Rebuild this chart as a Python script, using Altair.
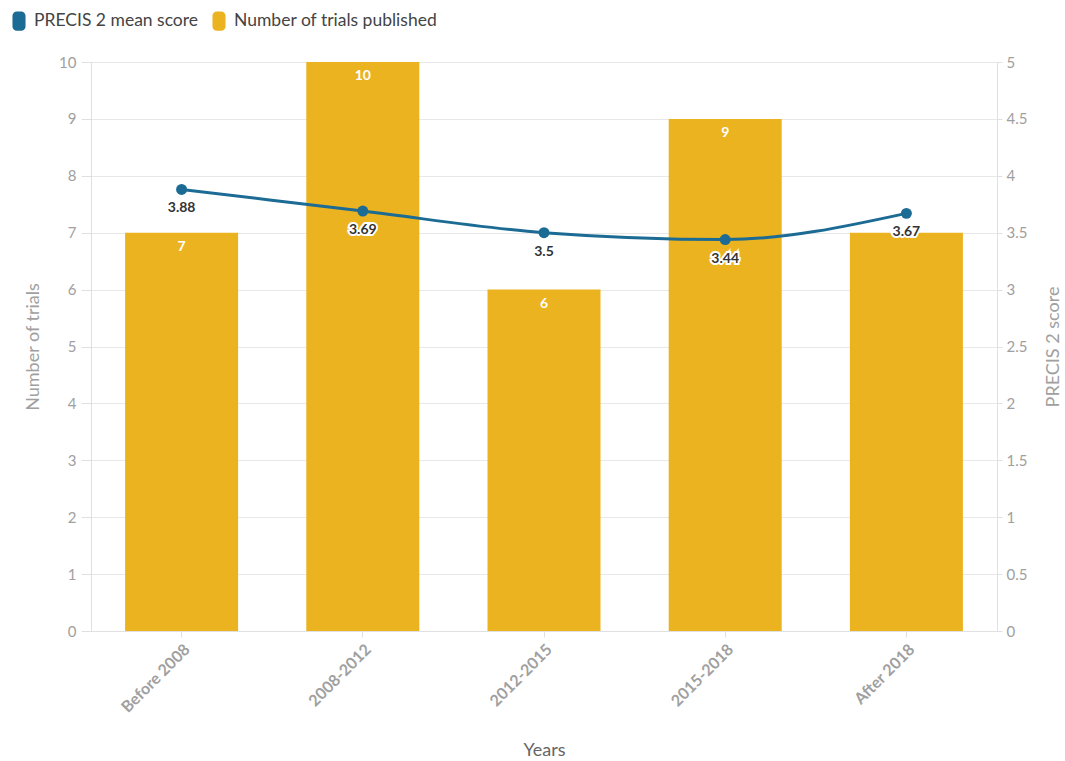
import altair as alt
import pandas as pd

years = ["Before 2008", "2008-2012", "2012-2015", "2015-2018", "After 2018"]
trials = [7, 10, 6, 9, 7]
precis = [3.88, 3.69, 3.5, 3.44, 3.67]
series_names = ["PRECIS 2 mean score", "Number of trials published"]
colors = ["#1c6b94", "#ebb31f"]
# bar labels hidden behind the line labels in the reference
hidden_bar_labels = ["After 2018"]

bars_df = pd.DataFrame({"Years": years, "trials": trials, "series": series_names[1]})
line_df = pd.DataFrame({"Years": years, "score": precis, "series": series_names[0]})
bar_label_df = bars_df[~bars_df["Years"].isin(hidden_bar_labels)]

FONT = "Lato"
rounded = ("M-0.67,-0.55 A0.45,0.45 0 0 1 -0.22,-1 L0.22,-1 A0.45,0.45 0 0 1 0.67,-0.55 "
           "L0.67,0.55 A0.45,0.45 0 0 1 0.22,1 L-0.22,1 A0.45,0.45 0 0 1 -0.67,0.55 Z")

color_scale = alt.Scale(domain=series_names, range=colors)
legend = alt.Legend(
    title=None, orient="none", legendX=-82, legendY=-51, direction="horizontal",
    symbolType=rounded, symbolSize=380, symbolStrokeWidth=0, symbolOpacity=1,
    labelFontSize=17.5, labelColor="#444", labelFont=FONT, columnPadding=10, symbolOffset=0,
    labelOffset=5, labelLimit=400,
)

x_enc = alt.X("Years:N", sort=years, scale=alt.Scale(paddingInner=0.375, paddingOuter=0.1875),
              axis=alt.Axis(title="Years", labelAngle=-45, labelAlign="right", labelBaseline="top",
                            labelFontSize=16, labelFontWeight="bold", labelColor="#a0a0a0",
                            titleFontSize=18, titleColor="#666", titleFontWeight="normal",
                            titlePadding=26, domainColor="#e0e0e0", tickColor="#e0e0e0",
                            tickSize=6, labelPadding=4, labelFont=FONT, titleFont=FONT))

y_left = alt.Y("trials:Q", scale=alt.Scale(domain=[0, 10], nice=False),
               axis=alt.Axis(title="Number of trials", values=list(range(11)), format="d",
                             labelFontSize=15, labelColor="#a0a0a0", titleFontSize=18,
                             titleColor="#a0a0a0", titleFontWeight="normal", gridColor="#e8e8e8",
                             domainColor="#e0e0e0", tickColor="#e0e0e0", tickSize=10,
                             labelPadding=5, titlePadding=16, labelFont=FONT, titleFont=FONT))

bars = alt.Chart(bars_df).mark_bar(size=113).encode(
    x=x_enc, y=y_left,
    color=alt.Color("series:N", scale=color_scale, legend=legend),
)
bar_text = alt.Chart(bar_label_df).mark_text(dy=14, color="white", fontWeight="bold", fontSize=14, font=FONT).encode(
    x=alt.X("Years:N", sort=years), y=alt.Y("trials:Q"), text="trials:Q"
)

y_right = alt.Y("score:Q", scale=alt.Scale(domain=[0, 5], nice=False),
                axis=alt.Axis(title="PRECIS 2 score", orient="right", titleAngle=270,
                              titleBaseline="bottom",
                              values=[0, 0.5, 1, 1.5, 2, 2.5, 3, 3.5, 4, 4.5, 5], format="~g",
                              labelFontSize=15, labelColor="#a0a0a0", titleFontSize=18,
                              titleColor="#a0a0a0", titleFontWeight="normal", grid=False,
                              domainColor="#e0e0e0", tickColor="#e0e0e0", tickSize=5,
                              labelPadding=4, titlePadding=36, labelFont=FONT, titleFont=FONT))

line = alt.Chart(line_df).mark_line(interpolate="monotone", strokeWidth=3).encode(
    x=alt.X("Years:N", sort=years), y=y_right,
    color=alt.Color("series:N", scale=color_scale, legend=legend),
)
pts = alt.Chart(line_df).mark_circle(size=120, opacity=1, color=colors[0]).encode(
    x=alt.X("Years:N", sort=years), y=alt.Y("score:Q")
)
halo = alt.Chart(line_df).mark_text(dy=19, color="white", stroke="white", strokeWidth=4,
                                    fontWeight="bold", fontSize=14, font=FONT).encode(
    x=alt.X("Years:N", sort=years), y=alt.Y("score:Q"), text="score:Q"
)
lab = alt.Chart(line_df).mark_text(dy=19, color="#333", fontWeight="bold", fontSize=14, font=FONT).encode(
    x=alt.X("Years:N", sort=years), y=alt.Y("score:Q"), text="score:Q"
)

left = alt.layer(bars, bar_text)
right = alt.layer(line, pts, halo, lab)

chart = alt.layer(left, right).resolve_scale(y="independent").properties(
    width=906, height=569,
    autosize=alt.AutoSizeParams(type="none"),
    padding={"left": 91, "top": 62, "right": 68, "bottom": 130},
).configure_view(stroke=None).configure(background="white")

chart.save("out.html", embed_options={"renderer": "svg", "actions": False})
